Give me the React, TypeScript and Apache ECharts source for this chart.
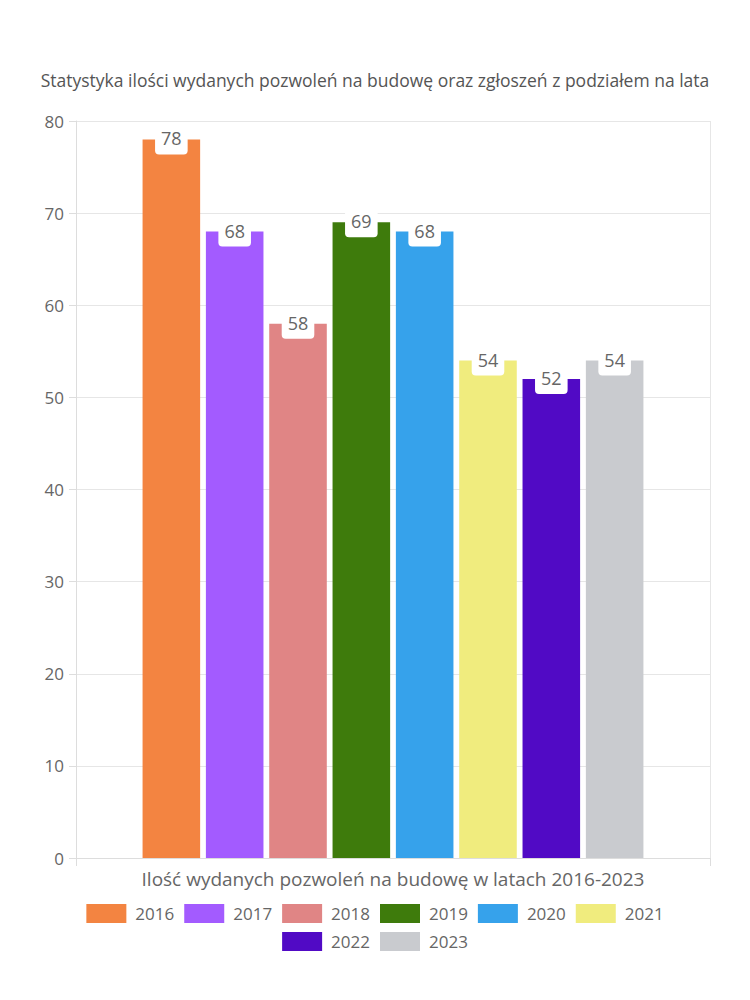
import React, { useEffect, useRef } from "react";
import * as echarts from "echarts";

const titleText = "Statystyka ilości wydanych pozwoleń na budowę oraz zgłoszeń z podziałem na lata";
const categories = ["Ilość wydanych pozwoleń na budowę w latach 2016-2023"];
const years = ["2016", "2017", "2018", "2019", "2020", "2021", "2022", "2023"];
const values = [78, 68, 58, 69, 68, 54, 52, 54];
const colors = ["#F38441", "#A35BFF", "#E08585", "#3E7B0C", "#36A2EB", "#F0EC7E", "#510AC5", "#C9CBCF"];
const legendRow1 = years.slice(0, 6);
const legendRow2 = years.slice(6);

const FONT = "'Open Sans', Lato, sans-serif";

export default function App() {
  const ref = useRef<HTMLDivElement>(null);
  useEffect(() => {
    if (!ref.current) return;
    const chart = echarts.init(ref.current, null, { renderer: "svg" });
    const legendCommon = {
      left: "center",
      itemWidth: 40,
      itemHeight: 19,
      itemGap: 10,
      icon: "rect",
      textStyle: { fontSize: 17, color: "#666", fontFamily: FONT, padding: [0, 0, 0, 4] },
    };
    chart.setOption({
      animation: false,
      textStyle: { fontFamily: FONT },
      title: {
        text: titleText,
        left: "center",
        top: 58,
        textStyle: { fontSize: 17.5, fontWeight: "normal", color: "#555", fontFamily: FONT },
      },
      grid: { left: 68, right: 32, top: 113, bottom: 150, containLabel: false },
      legend: [
        { ...legendCommon, top: 891, data: legendRow1 },
        { ...legendCommon, top: 919, data: legendRow2 },
      ],
      xAxis: {
        type: "category",
        data: categories,
        axisLine: { lineStyle: { color: "#ddd" } },
        axisTick: { show: true, length: 8, lineStyle: { color: "#ddd" } },
        splitLine: { show: true, lineStyle: { color: "#e6e6e6" } },
        axisLabel: { fontSize: 19, color: "#666", margin: 11, fontFamily: FONT },
      },
      yAxis: {
        type: "value",
        min: 0,
        max: 80,
        interval: 10,
        axisLine: { show: true, lineStyle: { color: "#ddd" } },
        axisTick: { show: true, length: 7, lineStyle: { color: "#ddd" } },
        splitLine: { show: true, lineStyle: { color: "#e6e6e6" } },
        axisLabel: { fontSize: 17, color: "#666", margin: 12, fontFamily: FONT },
      },
      series: years.map((y, i) => ({
        name: y,
        type: "bar",
        data: [values[i]],
        itemStyle: { color: colors[i] },
        barCategoryGap: "21%",
        barGap: "10%",
        label: {
          show: true,
          position: "insideTop",
          distance: 0,
          offset: [0, -17],
          backgroundColor: "#fff",
          borderRadius: 4,
          padding: [7, 6, 7, 6],
          fontSize: 18,
          lineHeight: 18,
          color: "#666",
          fontFamily: FONT,
        },
      })),
    });
    return () => chart.dispose();
  }, []);
  return <div ref={ref} style={{ width: 734, height: 1000 }} />;
}
